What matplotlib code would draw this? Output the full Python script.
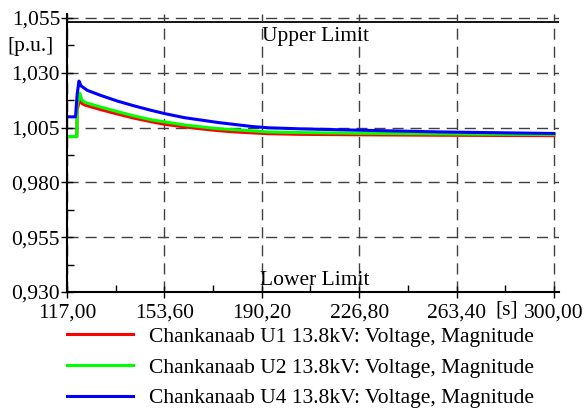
import matplotlib
matplotlib.use('Agg')
import matplotlib.pyplot as plt

plt.rcParams['font.family'] = ['Liberation Serif', 'DejaVu Serif']
plt.rcParams['font.size'] = 15.5

# values, time in [s], voltage in [p.u.]
t_u4 = [117, 120.2, 120.8, 121.5, 122.3, 124.6, 129.6, 135.9, 142.2, 148.5, 153.6, 161.2,
        167.5, 173.8, 180.1, 186.4, 192.7, 205, 226.8, 257.4, 300]
u4 = [1.0099, 1.0099, 1.0200, 1.0262, 1.0240, 1.0220, 1.0197, 1.0171, 1.0149, 1.0129, 1.0114,
      1.0095, 1.0084, 1.0073, 1.0064, 1.0055, 1.0049, 1.0044, 1.0038, 1.0030, 1.0023]

t_u12 = [117, 120.7, 120.8, 121.8, 122.6, 123.9, 129.6, 135.9, 142.2, 148.5, 153.6, 161.2,
         167.5, 173.8, 180.1, 186.4, 192.7, 205, 226.8, 257.4, 300]
u2 = [1.0009, 1.0009, 1.0150, 1.0207, 1.0175, 1.0164, 1.0144, 1.0123, 1.0103, 1.0086, 1.0076,
      1.0062, 1.0053, 1.0045, 1.0040, 1.0035, 1.0030, 1.0027, 1.0024, 1.0021, 1.0018]
u1 = [1.0009, 1.0009, 1.0130, 1.0180, 1.0160, 1.0152, 1.0132, 1.0112, 1.0093, 1.0077, 1.0065,
      1.0053, 1.0044, 1.0036, 1.0030, 1.0026, 1.0022, 1.0019, 1.0017, 1.0015, 1.0013]

labels = ['Chankanaab U1 13.8kV: Voltage, Magnitude',
          'Chankanaab U2 13.8kV: Voltage, Magnitude',
          'Chankanaab U4 13.8kV: Voltage, Magnitude']

xticks = [117.0, 153.6, 190.2, 226.8, 263.4, 300.0]
yticks = [0.930, 0.955, 0.980, 1.005, 1.030, 1.055]
upper_limit = 1.053
lower_limit = 0.930

fig = plt.figure(figsize=(5.86, 4.12), dpi=100)
ax = fig.add_axes([67/586, 1 - 292/412, (559 - 67)/586, (292 - 14)/412])

l1, = ax.plot(t_u12, u1, color='#ff0000', lw=2.2)
l2, = ax.plot(t_u12, u2, color='#00ff00', lw=2.2)
l4, = ax.plot(t_u4, u4, color='#0000ff', lw=2.2)

ax.axhline(upper_limit, color='black', lw=1.3, zorder=1)
ax.text(190.2, upper_limit - 0.0022, 'Upper Limit', ha='left', va='top')
ax.text(189.6, lower_limit + 0.0008, 'Lower Limit', ha='left', va='bottom')

ax.set_xlim(117, 301.9)
ax.set_ylim(0.930, 1.0568)
ax.set_xticks(xticks)
ax.set_xticklabels([f'{v:.2f}'.replace('.', ',') for v in xticks])
ax.set_yticks(yticks)
ax.set_yticklabels([f'{v:.3f}'.replace('.', ',') for v in yticks])
ax.set_xticks([(a + b) / 2 for a, b in zip(xticks[:-1], xticks[1:])], minor=True)
ax.set_yticks([(a + b) / 2 for a, b in zip(yticks[:-1], yticks[1:])], minor=True)
ax.tick_params(which='major', direction='inout', length=8, width=1)
ax.tick_params(axis='y', which='major', pad=1)
ax.tick_params(axis='x', which='major', pad=4)
ax.tick_params(which='minor', direction='in', length=5, width=1)

ax.grid(True, which='major', color='#404040', lw=1, linestyle=(0, (8, 5)))
for s in ['top', 'right']:
    ax.spines[s].set_visible(False)
for s in ['left', 'bottom']:
    ax.spines[s].set_linewidth(1.5)

fig.text(7/586, 1 - 46/412, '[p.u.]', ha='left', va='center')
fig.text(507/586, 1 - 310/412, '[s]', ha='center', va='center')

fig.legend([l1, l2, l4], labels, loc='upper left', bbox_to_anchor=(58/586, 1 - 318/412),
           frameon=False, handlelength=3.1, handletextpad=0.75, labelspacing=0.5,
           borderaxespad=0)

fig.savefig('out.png', dpi=100)
